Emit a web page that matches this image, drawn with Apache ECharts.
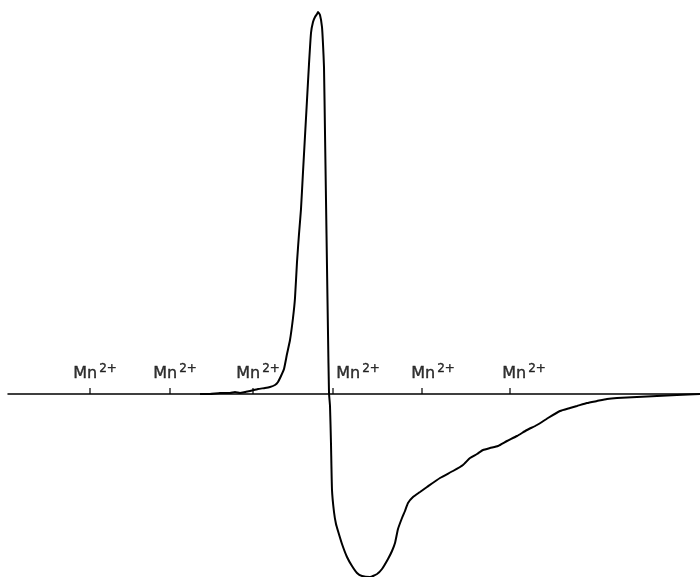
<!DOCTYPE html>
<html><head><meta charset="utf-8">
<script src="https://cdn.jsdelivr.net/npm/echarts@6/dist/echarts.min.js"></script>
<style>html,body{margin:0;padding:0;background:#fff}#c{width:700px;height:577px}</style>
</head><body><div id="c"></div>
<script>
// Field position (arbitrary units) and signal amplitude (arbitrary units, 0 = baseline)
const fieldX = [200,210,220,230,235,240,245,250,258,265,270,275,278,281,284,287,290,293,295,297,299,301,303,305,307,309,311,313,315,317,318,320,322,323,324,325,326,327,328,329,330,331,332,334,336,338,342,347,352,357,362,370,377,382,388,392,395,398,402,405,408,413,420,427,440,453,463,470,477,483,490,498,507,517,527,537,548,560,570,577,587,597,607,617,637,657,677,700];
const signal = [0,0,1,1,2,1,2,3,5,6,7,9,12,18,25,40,54,76,96,132,160,185,222,258,294,330,361,372,377,380,382,379,367,350,327,261,194,127,61,1,-12,-50,-96,-118,-130,-137,-150,-163,-172,-179,-182,-183,-180,-175,-165,-157,-149,-135,-124,-117,-109,-103,-98,-93,-84,-77,-71,-64,-60,-56,-54,-52,-47,-42,-36,-31,-24,-17,-14,-12,-9,-7,-5,-4,-3,-2,-1,0];
// Mn2+ marker positions and label positions
const markerX = [90,170,253,333,422,510];
const markerLabelX = [95,175,258,358,433,524];

const chart = echarts.init(document.getElementById('c'));
chart.setOption({
  animation:false,
  backgroundColor:'#fff',
  grid:{left:8,right:0,top:0,bottom:0},
  xAxis:{type:'value',min:8,max:700,axisLine:{onZero:true,lineStyle:{color:'#000',width:1.5}},axisTick:{show:false},axisLabel:{show:false},splitLine:{show:false}},
  yAxis:{type:'value',min:-183,max:394,show:false,splitLine:{show:false}},
  series:[
    {type:'line',data:fieldX.map((x,i)=>[x,signal[i]]),showSymbol:false,smooth:0.15,lineStyle:{color:'#000',width:2},clip:false},
    {type:'scatter',data:markerX.map(x=>[x,0]),symbol:'rect',symbolSize:[1.5,6],symbolOffset:[0,-3],itemStyle:{color:'#000'}},
    {type:'scatter',data:markerLabelX.map(x=>[x,20]),symbolSize:0,
      label:{show:true,position:'inside',color:'#000',
        formatter:()=>'{a|Mn}{b|2+}',
        rich:{a:{fontFamily:'DejaVu Sans',fontSize:16,color:'#000',lineHeight:20,textBorderColor:'#000',textBorderWidth:0.4},
              b:{fontFamily:'DejaVu Sans',fontSize:12,color:'#000',padding:[0,0,10,2],lineHeight:20,textBorderColor:'#000',textBorderWidth:0.4}}}}
  ]
});
</script></body></html>
